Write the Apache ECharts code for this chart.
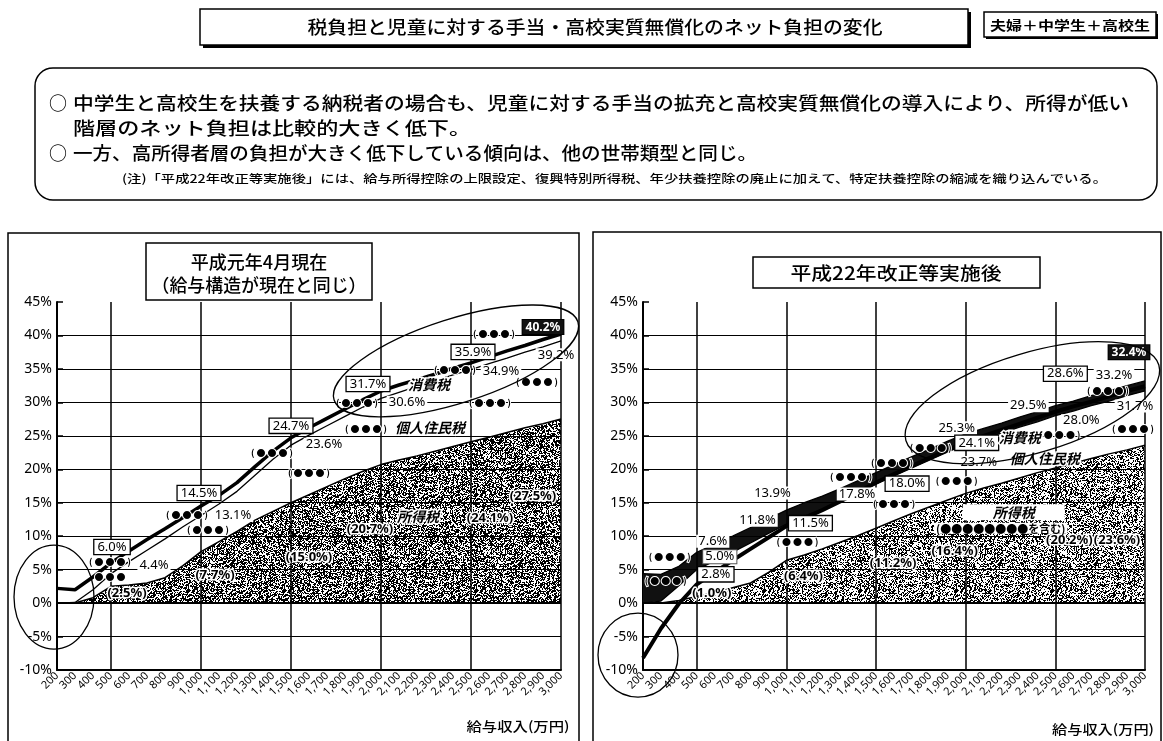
<!DOCTYPE html>
<html>
<head>
<meta charset="utf-8">
<script src="https://cdn.jsdelivr.net/npm/echarts@6/dist/echarts.min.js"></script>
<style>
  html, body { margin: 0; padding: 0; background: #fff; }
  #main { width: 1163px; height: 741px; }
</style>
</head>
<body>
<div id="main"></div>
<script>
// 給与収入（万円）
var incomes = [200, 300, 400, 500, 600, 700, 800, 900, 1000, 1100, 1200, 1300, 1400, 1500,
  1600, 1700, 1800, 1900, 2000, 2100, 2200, 2300, 2400, 2500, 2600, 2700, 2800, 2900, 3000];
var gridLevels = [-5, 0, 5, 10, 15, 20, 25, 30, 35, 40];
var gridMarks = [500, 1000, 1500, 2000, 2500, 3000];

// 平成元年4月現在（%）
var h1Total = [2.2, 2.0, 3.9, 6.0, 7.8, 9.5, 11.1, 12.8, 14.5, 16.1, 18.0, 20.4, 22.7, 24.7,
  26.2, 27.6, 29.0, 30.4, 31.7, 32.6, 33.4, 34.2, 35.1, 35.9, 36.8, 37.7, 38.5, 39.4, 40.2];
var h1Taxes = [0, 0.1, 2.0, 4.4, 6.2, 7.9, 9.6, 11.4, 13.1, 14.8, 16.7, 19.1, 21.5, 23.6,
  25.1, 26.5, 27.9, 29.3, 30.6, 31.5, 32.4, 33.2, 34.1, 34.9, 35.8, 36.6, 37.5, 38.3, 39.2];
var h1IncomeTax = [0, 0, 0.8, 2.5, 2.7, 3.0, 3.8, 5.6, 7.7, 9.2, 10.7, 12.4, 13.7, 15.0,
  16.2, 17.4, 18.6, 19.7, 20.7, 21.4, 22.0, 22.7, 23.4, 24.1, 24.8, 25.5, 26.2, 26.8, 27.5];

// 平成22年改正等実施後（%）
var h22Total = [4.4, 4.3, 5.5, 7.6, 8.8, 10.0, 11.3, 12.6, 13.9, 15.0, 16.0, 17.1, 18.3, 19.5,
  20.7, 21.9, 23.0, 24.2, 25.3, 26.1, 26.9, 27.8, 28.6, 29.5, 30.2, 31.0, 31.7, 32.5, 33.2];
var h22Taxes = [0, 0.3, 2.6, 5.0, 6.3, 7.6, 9.0, 10.4, 11.8, 13.0, 14.0, 15.2, 16.5, 17.8,
  19.0, 20.2, 21.4, 22.6, 23.7, 24.6, 25.4, 26.3, 27.1, 28.0, 28.7, 29.5, 30.2, 31.0, 31.7];
var h22IncomeTax = [0, 0, 0.4, 1.0, 1.6, 2.3, 3.0, 4.6, 6.4, 7.2, 8.1, 9.1, 10.1, 11.2,
  12.3, 13.4, 14.4, 15.4, 16.4, 17.2, 17.9, 18.7, 19.5, 20.2, 20.9, 21.6, 22.3, 22.9, 23.6];
var h22Net = [-8.2, -3.8, -0.1, 2.8, 4.6, 6.4, 8.1, 9.8, 11.5, 12.7, 13.9, 15.2, 16.6, 18.0,
  19.3, 20.5, 21.7, 22.9, 24.1, 25.0, 25.9, 26.8, 27.7, 28.6, 29.4, 30.1, 30.9, 31.7, 32.4];

var JP = '"Noto Sans CJK JP"';
var chart = echarts.init(document.getElementById('main'));

// 所得税の網掛け
function stipple(density) {
  var n = 96, c = document.createElement('canvas');
  c.width = c.height = n;
  var ctx = c.getContext('2d'), img = ctx.createImageData(n, n);
  for (var y = 0; y < n; y++) {
    for (var x = 0; x < n; x++) {
      var h = (Math.imul(x, 374761393) + Math.imul(y, 668265263)) | 0;
      h = Math.imul(h ^ (h >>> 13), 1274126177);
      h ^= h >>> 16;
      var k = (y * n + x) * 4;
      img.data[k + 3] = ((h >>> 0) % 100) < density * 100 ? 255 : 0;
    }
  }
  ctx.putImageData(img, 0, 0);
  return c;
}

function xAxisFor(g) {
  return {
    type: 'category', gridIndex: g, data: incomes, boundaryGap: false,
    axisLine: { onZero: false, lineStyle: { color: '#000', width: 2 } },
    axisTick: { show: false },
    splitLine: { show: false },
    axisLabel: {
      interval: 0, rotate: 45, fontSize: 11, color: '#000', margin: 4, fontFamily: 'Noto Sans',
      formatter: function (v) { return Number(v).toLocaleString('en-US'); }
    }
  };
}
function yAxisFor(g) {
  return {
    type: 'value', gridIndex: g, min: -10, max: 45, interval: 5,
    axisLine: { show: true, lineStyle: { color: '#000', width: 2 } },
    axisTick: { show: true, inside: true, length: 6, lineStyle: { color: '#000', width: 1.5 } },
    splitLine: { show: false },
    axisLabel: { formatter: '{value}%', fontSize: 14, color: '#000', margin: 5, fontFamily: 'Noto Sans' }
  };
}
function gridLines(g) {
  var items = gridLevels.map(function (v) {
    return { yAxis: v, lineStyle: { color: '#000', width: v === 0 ? 2.2 : 1, type: 'solid' } };
  }).concat(gridMarks.map(function (c) {
    return { xAxis: incomes.indexOf(c), lineStyle: { color: '#000', width: 1.5, type: 'solid' } };
  }));
  return {
    type: 'line', xAxisIndex: g, yAxisIndex: g, data: incomes.map(function () { return 0; }),
    symbol: 'none', lineStyle: { opacity: 0 }, silent: true, z: 1,
    markLine: { silent: true, symbol: ['none', 'none'], label: { show: false }, animation: false, data: items }
  };
}
function lineSeries(g, data, width, extra) {
  var s = {
    type: 'line', xAxisIndex: g, yAxisIndex: g, data: data, symbol: 'none', silent: true,
    lineStyle: { color: '#000', width: width }, z: 3
  };
  for (var k in extra) s[k] = extra[k];
  return s;
}

var option = {
  animation: false,
  grid: [
    { left: 57, top: 302, width: 504, height: 368 },
    { left: 643, top: 302, width: 502, height: 368 }
  ],
  xAxis: [xAxisFor(0), xAxisFor(1)],
  yAxis: [yAxisFor(0), yAxisFor(1)],
  series: [
    gridLines(0),
    lineSeries(0, h1IncomeTax, 1.5, { z: 2, areaStyle: { color: { image: stipple(0.55), repeat: 'repeat' }, opacity: 1 } }),
    lineSeries(0, h1Taxes, 1.3, {}),
    lineSeries(0, h1Total, 3.5, { z: 4 }),

    gridLines(1),
    lineSeries(1, h22IncomeTax, 1.5, { z: 2, areaStyle: { color: { image: stipple(0.45), repeat: 'repeat' }, opacity: 1 } }),
    lineSeries(1, h22Taxes, 1.3, { stack: 'cons' }),
    lineSeries(1, h22Total.map(function (v, i) { return +(v - h22Taxes[i]).toFixed(2); }), 1.3,
      { stack: 'cons', areaStyle: { color: '#111', opacity: 1 } }),
    lineSeries(1, h22Net, 4, { z: 5 })
  ]
};
chart.setOption(option);

// ---- 注記（データ点からの相対位置）----
function at(g, cat, arr, dx, dy) {
  var i = incomes.indexOf(cat);
  var p = chart.convertToPixel({ gridIndex: g }, [i, arr[i]]);
  return [p[0] + dx, p[1] + dy];
}
var D = '( ● ● ● )';
var kinds = {
  box: { fontSize: 13, fontFamily: 'Noto Sans', fill: '#000', backgroundColor: '#fff', borderColor: '#000', borderWidth: 1.3, padding: [1, 3, 0, 3] },
  plain: { fontSize: 13, fontFamily: 'Noto Sans', fill: '#000', backgroundColor: '#fff', padding: [0, 2] },
  plainb: { fontSize: 13, fontFamily: 'Noto Sans', fill: '#000', backgroundColor: '#fff', borderColor: '#555', borderWidth: 1, padding: [0, 2] },
  paren: { fontSize: 13, fontFamily: 'Noto Sans', fontWeight: 'bold', fill: '#000', stroke: '#fff', lineWidth: 3 },
  dark: { fontSize: 12, fontFamily: 'Noto Sans', fontWeight: 'bold', fill: '#fff', backgroundColor: '#111', borderColor: '#000', borderWidth: 1, padding: [1, 3] },
  dots: { fontSize: 9, fontFamily: JP, fontWeight: 'bold', fill: '#000', stroke: '#fff', lineWidth: 2 },
  dotsw: { fontSize: 11, fontFamily: JP, fontWeight: 'bold', fill: '#000', backgroundColor: '#fff', padding: [0, 2] },
  tag: { fontSize: 14, fontFamily: JP, fontStyle: 'italic', fontWeight: 'bold', fill: '#000', stroke: '#fff', lineWidth: 3 },
  tagbox: { fontSize: 14, fontFamily: JP, fontStyle: 'italic', fontWeight: 'bold', fill: '#000', backgroundColor: '#fff', padding: [2, 30, 0, 30] }
};
var notes = [
  // 平成元年
  [0, 'box', 500, h1Total, 1, -16, '6.0%'],
  [0, 'box', 1000, h1Total, -2, -13, '14.5%'],
  [0, 'box', 1500, h1Total, 0, -12, '24.7%'],
  [0, 'box', 2000, h1Total, -13, -7, '31.7%'],
  [0, 'box', 2500, h1Total, 2, -11, '35.9%'],
  [0, 'dark', 3000, h1Total, -18, -7, '40.2%'],
  [0, 'plain', 500, h1Taxes, 43, -8, '4.4%'],
  [0, 'plain', 1000, h1Taxes, 32, 0, '13.1%'],
  [0, 'plain', 1500, h1Taxes, 33, -1, '23.6%'],
  [0, 'plain', 2000, h1Taxes, 26, 4, '30.6%'],
  [0, 'plain', 2500, h1Taxes, 30, 2, '34.9%'],
  [0, 'plain', 3000, h1Taxes, -5, 14, '39.2%'],
  [0, 'paren', 500, h1IncomeTax, 16, 7, '(2.5%)'],
  [0, 'paren', 1000, h1IncomeTax, 14, 24, '(7.7%)'],
  [0, 'paren', 1500, h1IncomeTax, 18, 55, '(15.0%)'],
  [0, 'paren', 2000, h1IncomeTax, -11, 65, '(20.7%)'],
  [0, 'paren', 2500, h1IncomeTax, 19, 76, '(24.1%)'],
  [0, 'paren', 3000, h1IncomeTax, -28, 77, '(27.5%)'],
  [0, 'dots', 500, h1Total, -1, -1, D],
  [0, 'dots', 500, h1Total, -1, 14, '● ● ●'],
  [0, 'dots', 1000, h1Total, -14, 9, D],
  [0, 'dots', 1000, h1Total, 7, 24, D],
  [0, 'dots', 1500, h1Total, -19, 15, D],
  [0, 'dots', 1500, h1Total, 18, 35, D],
  [0, 'dots', 2000, h1Total, -24, 12, D],
  [0, 'dots', 2000, h1Total, -15, 38, D],
  [0, 'dots', 2500, h1Total, -16, 7, D],
  [0, 'dots', 2500, h1Total, 23, -29, D],
  [0, 'dots', 2500, h1Total, 19, 40, D],
  [0, 'dots', 3000, h1Total, -24, 47, D],
  [0, 'tag', 2000, h1Total, 48, -6, '消費税'],
  [0, 'tag', 2000, h1Total, 49, 37, '個人住民税'],
  [0, 'tag', 2000, h1IncomeTax, 37, 52, '所得税'],
  // 平成22年
  [1, 'plain', 500, h22Total, 16, -11, '7.6%'],
  [1, 'plainb', 500, h22Taxes, 23, -13, '5.0%'],
  [1, 'box', 500, h22Net, 19, -10, '2.8%'],
  [1, 'paren', 500, h22IncomeTax, 15, -3, '(1.0%)'],
  [1, 'plain', 1000, h22Taxes, -29, -4, '11.8%'],
  [1, 'plain', 1000, h22Total, -14, -17, '13.9%'],
  [1, 'box', 1000, h22Net, 24, -3, '11.5%'],
  [1, 'paren', 1000, h22IncomeTax, 17, 16, '(6.4%)'],
  [1, 'plain', 1500, h22Taxes, -19, 10, '17.8%'],
  [1, 'box', 1500, h22Net, 31, 1, '18.0%'],
  [1, 'paren', 1500, h22IncomeTax, 17, 35, '(11.2%)'],
  [1, 'plain', 2000, h22Total, -9, -6, '25.3%'],
  [1, 'box', 2000, h22Net, 11, 1, '24.1%'],
  [1, 'plain', 2000, h22Taxes, 13, 18, '23.7%'],
  [1, 'paren', 2000, h22IncomeTax, -11, 58, '(16.4%)'],
  [1, 'plain', 2500, h22Total, -27, 0, '29.5%'],
  [1, 'box', 2500, h22Net, 10, -38, '28.6%'],
  [1, 'plain', 2500, h22Taxes, 26, 5, '28.0%'],
  [1, 'paren', 2500, h22IncomeTax, 14, 72, '(20.2%)'],
  [1, 'plain', 3000, h22Total, -31, -6, '33.2%'],
  [1, 'plain', 3000, h22Taxes, -10, 15, '31.7%'],
  [1, 'dark', 3000, h22Net, -16, -34, '32.4%'],
  [1, 'paren', 3000, h22IncomeTax, -28, 95, '(23.6%)'],
  [1, 'dots', 500, h22Net, -27, -28, D],
  [1, 'dots', 500, h22Net, -31, -4, D],
  [1, 'dots', 1000, h22Net, 11, 15, D],
  [1, 'dots', 1500, h22Net, -25, -6, D],
  [1, 'dots', 1500, h22Net, 18, 21, D],
  [1, 'dots', 1500, h22Net, 16, -20, D],
  [1, 'dots', 2000, h22Net, -35, 6, D],
  [1, 'dots', 2000, h22Net, -9, 39, D],
  [1, 'dots', 2500, h22Net, 4, 23, D],
  [1, 'dots', 3000, h22Net, -37, 4, D],
  [1, 'dots', 3000, h22Net, -12, 42, D],
  [1, 'tag', 2000, h22Total, 54, 4, '消費税'],
  [1, 'tag', 2000, h22Taxes, 79, 14, '個人住民税'],
  [1, 'tagbox', 2000, h22IncomeTax, 48, 19, '所得税'],
  [1, 'dotsw', 2000, h22IncomeTax, 35, 35, '(●●●●●●●●を含む)']
];

var graphics = [];
notes.forEach(function (n) {
  var p = at(n[0], n[2], n[3], n[4], n[5]);
  var st = { text: n[6], align: 'center', verticalAlign: 'middle' };
  var k = kinds[n[1]];
  for (var key in k) st[key] = k[key];
  graphics.push({ type: 'text', x: p[0], y: p[1], z: 100, silent: true, style: st });
});

// 手書きの楕円
[
  [0, 200, h1IncomeTax, -3, -6, 40, 52, 0],
  [0, 2500, h1Total, -15, -2, 128, 42, 0.31],
  [1, 200, h22IncomeTax, -5, 52, 40, 42, 0],
  [1, 2500, h22Net, -23, -9, 132, 50, 0.29]
].forEach(function (e) {
  var p = at(e[0], e[1], e[2], e[3], e[4]);
  graphics.push({
    type: 'ellipse', x: p[0], y: p[1], rotation: e[7], z: 110, silent: true,
    shape: { cx: 0, cy: 0, rx: e[5], ry: e[6] },
    style: { fill: null, stroke: '#000', lineWidth: 1.3 }
  });
});

// ---- 見出し・枠 ----
var mctx = document.createElement('canvas').getContext('2d');
function txt(text, x, y, size, target, align, weight) {
  weight = weight || '500';
  mctx.font = weight + ' ' + size + 'px ' + JP;
  var s = target ? target / mctx.measureText(text).width : 1;
  return {
    type: 'text', x: x, y: y, scaleX: s, z: 120, silent: true,
    style: { text: text, fontSize: size, fontFamily: JP, fontWeight: weight,
      fill: '#000', align: align || 'center', verticalAlign: 'middle' }
  };
}
function rect(x, y, w, h, opts) {
  opts = opts || {};
  return {
    type: 'rect', z: opts.z || 90, silent: true,
    shape: { x: x, y: y, width: w, height: h, r: opts.r || 0 },
    style: { fill: opts.fill === undefined ? null : opts.fill, stroke: opts.stroke === undefined ? '#000' : opts.stroke, lineWidth: opts.lw || 1.5 }
  };
}

graphics.push(
  rect(203, 12, 768, 36, { fill: '#000', stroke: null, z: 88 }),
  rect(200, 9, 768, 36, { fill: '#fff', z: 89 }),
  txt('税負担と児童に対する手当・高校実質無償化のネット負担の変化', 595, 27, 18, 575),
  rect(986, 14, 172, 25, { fill: '#000', stroke: null, z: 88 }),
  rect(984, 12, 172, 25, { fill: '#fff', z: 89 }),
  txt('夫婦＋中学生＋高校生', 1070, 25, 13, 160, 'center', 'bold'),
  rect(35, 68, 1122, 132, { r: 18 }),
  txt('○', 49, 103, 18, 0, 'left'),
  txt('中学生と高校生を扶養する納税者の場合も、児童に対する手当の拡充と高校実質無償化の導入により、所得が低い', 73, 103, 18, 1056, 'left'),
  txt('階層のネット負担は比較的大きく低下。', 73, 128, 18, 398, 'left'),
  txt('○', 49, 153, 18, 0, 'left'),
  txt('一方、高所得者層の負担が大きく低下している傾向は、他の世帯類型と同じ。', 73, 153, 18, 684, 'left'),
  txt('(注)「平成22年改正等実施後」には、給与所得控除の上限設定、復興特別所得税、年少扶養控除の廃止に加えて、特定扶養控除の縮減を織り込んでいる。', 122, 179, 11.5, 985, 'left'),
  rect(8, 233, 571, 530),
  rect(593, 232, 568, 530),
  rect(146, 243, 226, 57, { fill: '#fff', z: 115 }),
  txt('平成元年4月現在', 259, 262, 18, 0),
  txt('（給与構造が現在と同じ）', 259, 285, 18, 215),
  rect(753, 257, 287, 31, { fill: '#fff', z: 115 }),
  txt('平成22年改正等実施後', 896, 273, 18, 211),
  txt('給与収入(万円)', 518, 726, 13, 103),
  txt('給与収入(万円)', 1103, 729, 13, 102)
);

chart.setOption({ graphic: graphics });
</script>
</body>
</html>
